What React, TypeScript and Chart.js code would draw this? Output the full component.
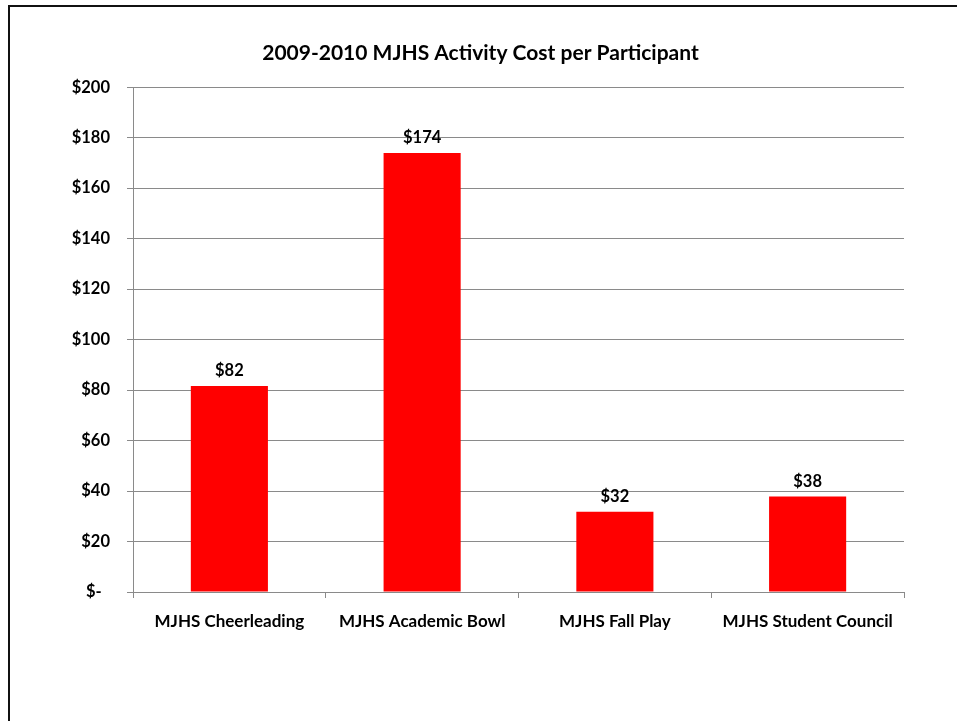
import React, { useEffect, useRef } from "react";
import { Chart, registerables } from "chart.js";

Chart.register(...registerables);

const categories = [
  "MJHS Cheerleading",
  "MJHS Academic Bowl",
  "MJHS Fall Play",
  "MJHS Student Council",
];
const costPerParticipant = [81.6, 173.9, 31.8, 37.8];
const valueLabels = ["$82", "$174", "$32", "$38"];
const yTickValues = [0, 20, 40, 60, 80, 100, 120, 140, 160, 180, 200];
const yTickLabels = ["$-\u2002", "$20", "$40", "$60", "$80", "$100", "$120", "$140", "$160", "$180", "$200"];
const chartTitle = "2009-2010 MJHS Activity Cost per Participant";

const FONT = "Lato, 'Open Sans', sans-serif";
const GRID = "#8a8a8a";

export default function App() {
  const canvasRef = useRef<HTMLCanvasElement | null>(null);

  useEffect(() => {
    if (!canvasRef.current) return;
    const valueLabelPlugin = {
      id: "valueLabels",
      afterDatasetsDraw(chart: any) {
        const ctx = chart.ctx;
        const meta = chart.getDatasetMeta(0);
        ctx.save();
        ctx.font = `bold 16.5px ${FONT}`;
        ctx.fillStyle = "#000";
        ctx.textAlign = "center";
        ctx.textBaseline = "alphabetic";
        meta.data.forEach((bar: any, i: number) => {
          ctx.fillText(valueLabels[i], bar.x, bar.y - 10);
        });
        ctx.restore();
      },
    };

    const chart = new Chart(canvasRef.current, {
      type: "bar",
      data: {
        labels: categories,
        datasets: [
          {
            data: costPerParticipant,
            backgroundColor: "#ff0000",
            borderWidth: 0,
            barPercentage: 0.4,
            categoryPercentage: 1,
          },
        ],
      },
      options: {
        responsive: false,
        animation: false,
        layout: { padding: { left: 57, right: 53, top: 0, bottom: 0 } },
        plugins: {
          legend: { display: false },
          tooltip: { enabled: false },
          title: {
            display: true,
            text: chartTitle,
            color: "#000",
            font: { family: FONT, size: 21, weight: "bold", lineHeight: 1.2 },
            padding: { top: 41, bottom: 21 },
          },
        },
        scales: {
          x: {
            grid: {
              display: true,
              drawOnChartArea: false,
              drawTicks: true,
              tickLength: 6,
              color: GRID,
              offset: true,
            },
            border: { display: true, color: GRID, width: 1 },
            ticks: {
              color: "#000",
              font: { family: FONT, size: 17, weight: "bold" },
              padding: 13,
              maxRotation: 0,
              autoSkip: false,
            },
            afterFit(scale: any) {
              scale.height = 721 - 592;
            },
          },
          y: {
            min: 0,
            max: 200,
            afterBuildTicks(scale: any) {
              scale.ticks = yTickValues.map((v) => ({ value: v }));
            },
            grid: {
              color: GRID,
              lineWidth: 1,
              drawTicks: true,
              tickLength: 6,
            },
            border: { display: true, color: GRID, width: 1 },
            ticks: {
              color: "#000",
              font: { family: FONT, size: 16.5, weight: "bold" },
              padding: 17,
              callback: (value: any) => {
                const idx = yTickValues.indexOf(Number(value));
                return idx >= 0 ? yTickLabels[idx] : "";
              },
            },
            afterFit(scale: any) {
              scale.width = 76;
            },
          },
        },
      },
      plugins: [valueLabelPlugin],
    });
    return () => chart.destroy();
  }, []);

  return (
    <div
      style={{
        position: "fixed",
        left: 0,
        top: 0,
        width: 957,
        height: 721,
        overflow: "hidden",
        background: "#fff",
      }}
    >
      <div
        style={{
          position: "absolute",
          left: 8,
          top: 5,
          width: 1200,
          height: 1000,
          borderTop: "2px solid #111",
          borderLeft: "2px solid #111",
          boxSizing: "border-box",
        }}
      />
      <canvas
        ref={canvasRef}
        width={957}
        height={721}
        style={{ position: "absolute", left: 0, top: 0, width: 957, height: 721 }}
      />
    </div>
  );
}
